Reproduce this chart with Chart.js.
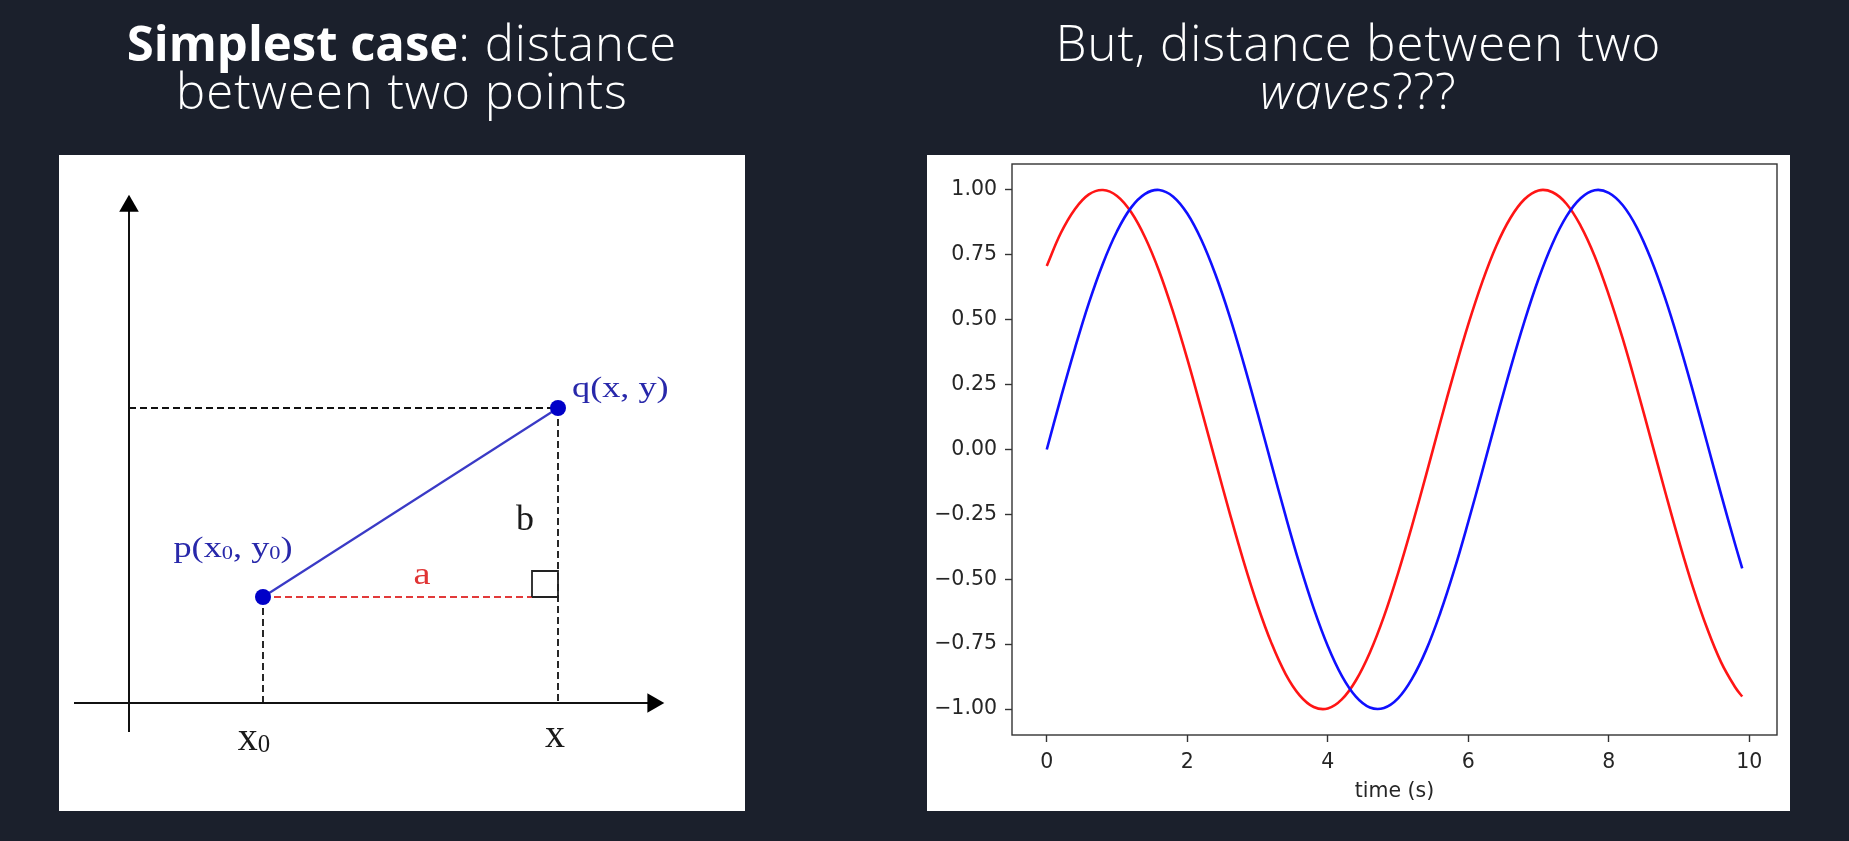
<!DOCTYPE html>
<html>
<head>
<meta charset="utf-8">
<script src="https://cdn.jsdelivr.net/npm/chart.js@4.4.1/dist/chart.umd.min.js"></script>
<style>
  html, body { margin: 0; padding: 0; background: #1b202c; width: 1849px; height: 841px; overflow: hidden; }
  .title { position: absolute; color: #fff; font-family: "Open Sans", "Lato", sans-serif; font-weight: 300;
           font-size: 49px; line-height: 48px; letter-spacing: 1px; text-align: center; white-space: nowrap; }
  .title b { font-weight: 700; letter-spacing: 0; }
  #leftTitle { left: 59px; width: 686px; top: 18px; }
  #rightTitle { left: 927px; width: 863px; top: 18px; }
  .panel { position: absolute; background: #fff; }
  #leftPanel { left: 59px; top: 155px; width: 686px; height: 656px; }
  #rightPanel { left: 927px; top: 155px; width: 863px; height: 656px; }
  canvas { display: block; }
</style>
</head>
<body>
<div class="title" id="leftTitle"><b>Simplest case</b>: distance<br>between two points</div>
<div class="title" id="rightTitle">But, distance between two<br><i>waves</i>???</div>
<div class="panel" id="leftPanel"><canvas id="pointsChart" width="686" height="656"></canvas></div>
<div class="panel" id="rightPanel"><canvas id="wavesChart" width="863" height="656"></canvas></div>
<script>
// ---- left diagram: two points (units of the sketch, origin where the axes cross)
var pointP = [1.34, 1.06];
var pointQ = [4.29, 2.95];
var xAxisEnds = [-0.55, 5.24];
var yAxisEnds = [-0.29, 4.97];
var squareSide = 0.26;

// ---- right chart: two waves
var times = [0, 0.2, 0.4, 0.6, 0.8, 1.0, 1.2, 1.4, 1.6, 1.8, 2.0, 2.2, 2.4, 2.6, 2.8, 3.0, 3.2, 3.4, 3.6, 3.8,
             4.0, 4.2, 4.4, 4.6, 4.8, 5.0, 5.2, 5.4, 5.6, 5.8, 6.0, 6.2, 6.4, 6.6, 6.8, 7.0, 7.2, 7.4, 7.6, 7.8,
             8.0, 8.2, 8.4, 8.6, 8.8, 9.0, 9.2, 9.4, 9.6, 9.8, 9.9];
var blueWave = [0.000, 0.199, 0.389, 0.565, 0.717, 0.841, 0.932, 0.985, 1.000, 0.974, 0.909, 0.808, 0.675, 0.516,
                0.335, 0.141, -0.058, -0.256, -0.443, -0.612, -0.757, -0.872, -0.952, -0.994, -0.996, -0.959,
                -0.883, -0.773, -0.631, -0.465, -0.279, -0.083, 0.117, 0.312, 0.494, 0.657, 0.794, 0.899, 0.968,
                0.999, 0.989, 0.941, 0.855, 0.734, 0.585, 0.412, 0.223, 0.025, -0.174, -0.366, -0.458];
var redWave = [0.707, 0.834, 0.926, 0.983, 1.000, 0.977, 0.915, 0.817, 0.687, 0.528, 0.349, 0.155, -0.044, -0.241,
               -0.429, -0.600, -0.747, -0.865, -0.947, -0.992, -0.998, -0.963, -0.890, -0.782, -0.643, -0.477,
               -0.293, -0.098, 0.103, 0.298, 0.482, 0.646, 0.785, 0.892, 0.964, 0.998, 0.991, 0.946, 0.862,
               0.745, 0.596, 0.426, 0.237, 0.039, -0.160, -0.353, -0.532, -0.689, -0.820, -0.916, -0.952];
var xTickValues = [0, 2, 4, 6, 8, 10];
var yTickValues = [-1, -0.75, -0.5, -0.25, 0, 0.25, 0.5, 0.75, 1];

var serif = '"Liberation Serif", "Times New Roman", serif';
var tickFont = { family: '"DejaVu Sans", sans-serif', size: 20.5 };

function pt(x, y) {
    return { x: x, y: y };
}

// labels of the sketch: text runs, [text, isSubscript]
var sketchLabels = [
    { runs: [['p(x'], ['0', 1], [', y'], ['0', 1], [')']], at: [1.04, 1.46], size: 29, stretch: 1.25, color: '#2828aa', align: 'center' },
    { runs: [['q(x, y)']], at: [4.43, 3.065], size: 29, stretch: 1.25, color: '#2828aa', align: 'left' },
    { runs: [['a']], at: [2.93, 1.19], size: 32, stretch: 1.2, color: '#e03434', align: 'center' },
    { runs: [['b']], at: [3.96, 1.73], size: 36, stretch: 1, color: '#1a1a1a', align: 'center' },
    { runs: [['x'], ['0', 1]], at: [1.25, -0.47], size: 40, stretch: 1, color: '#1a1a1a', align: 'center' },
    { runs: [['x']], at: [4.26, -0.44], size: 40, stretch: 1, color: '#1a1a1a', align: 'center' }
];

var sketchText = {
    id: 'sketchText',
    afterDatasetsDraw: function (chart) {
        var ctx = chart.ctx;
        var sx = chart.scales.x, sy = chart.scales.y;
        sketchLabels.forEach(function (lab) {
            var subSize = lab.size * 0.62;
            ctx.save();
            ctx.textBaseline = 'alphabetic';
            ctx.textAlign = 'left';
            var total = 0;
            lab.runs.forEach(function (r) {
                ctx.font = (r[1] ? subSize : lab.size) + 'px ' + serif;
                total += ctx.measureText(r[0]).width;
            });
            ctx.translate(sx.getPixelForValue(lab.at[0]), sy.getPixelForValue(lab.at[1]));
            ctx.scale(lab.stretch, 1);
            ctx.fillStyle = lab.color;
            var x = lab.align === 'center' ? -total / 2 : 0;
            lab.runs.forEach(function (r) {
                ctx.font = (r[1] ? subSize : lab.size) + 'px ' + serif;
                ctx.fillText(r[0], x, r[1] ? lab.size * 0.06 : 0);
                x += ctx.measureText(r[0]).width;
            });
            ctx.restore();
        });
    }
};

var dashed = [7, 4];
var sqLeft = pointQ[0] - squareSide, sqTop = pointP[1] + squareSide;
var sketchSets = [
    { // segment p - q with both points
        data: [pt(pointP[0], pointP[1]), pt(pointQ[0], pointQ[1])],
        borderColor: '#3a3ac6', borderWidth: 2.2,
        pointRadius: 8, pointBackgroundColor: '#0000c8', pointBorderWidth: 0
    },
    { // right angle mark
        data: [pt(sqLeft, pointP[1]), pt(sqLeft, sqTop), pt(pointQ[0], sqTop), pt(pointQ[0], pointP[1]),
               pt(sqLeft, pointP[1])],
        borderColor: '#222', borderWidth: 1.8, pointRadius: 0
    },
    { // a
        data: [pt(pointP[0], pointP[1]), pt(sqLeft, pointP[1])],
        borderColor: '#e23a3a', borderWidth: 2, borderDash: dashed, pointRadius: 0
    },
    { // b, down to x axis
        data: [pt(pointQ[0], pointQ[1]), pt(pointQ[0], 0)],
        borderColor: '#111', borderWidth: 1.8, borderDash: dashed, pointRadius: 0
    },
    { // q across to y axis
        data: [pt(0, pointQ[1]), pt(pointQ[0], pointQ[1])],
        borderColor: '#111', borderWidth: 1.8, borderDash: dashed, pointRadius: 0
    },
    { // p down to x axis
        data: [pt(pointP[0], pointP[1]), pt(pointP[0], 0)],
        borderColor: '#111', borderWidth: 1.8, borderDash: dashed, pointRadius: 0
    },
    { // x axis with arrow
        data: [pt(xAxisEnds[0], 0), pt(xAxisEnds[1], 0)],
        borderColor: '#111', borderWidth: 2,
        pointRadius: [0, 11.3], pointStyle: 'triangle', pointRotation: 90,
        pointBackgroundColor: '#000', pointBorderWidth: 0
    },
    { // y axis with arrow
        data: [pt(0, yAxisEnds[0]), pt(0, yAxisEnds[1])],
        borderColor: '#111', borderWidth: 2,
        pointRadius: [0, 11.3], pointStyle: 'triangle',
        pointBackgroundColor: '#000', pointBorderWidth: 0
    }
];
sketchSets.forEach(function (d) {
    d.showLine = true;
    d.fill = false;
});

new Chart(document.getElementById('pointsChart'), {
    type: 'scatter',
    data: { datasets: sketchSets },
    options: {
        responsive: false,
        animation: false,
        events: [],
        layout: { padding: 0, autoPadding: false },
        plugins: { legend: { display: false }, tooltip: { enabled: false } },
        scales: {
            x: { type: 'linear', display: false, min: -0.70, max: 6.16 },
            y: { type: 'linear', display: false, min: -1.08, max: 5.48 }
        }
    },
    plugins: [sketchText]
});

// box around the plot area, like matplotlib spines
var plotFrame = {
    id: 'plotFrame',
    afterDraw: function (chart) {
        var a = chart.chartArea, ctx = chart.ctx;
        ctx.save();
        ctx.strokeStyle = '#333';
        ctx.lineWidth = 1.4;
        ctx.strokeRect(a.left, a.top, a.right - a.left, a.bottom - a.top);
        ctx.restore();
    }
};

var tickGrid = { drawOnChartArea: false, drawTicks: true, tickLength: 7, tickColor: '#333', tickWidth: 1.4 };

new Chart(document.getElementById('wavesChart'), {
    type: 'line',
    data: {
        datasets: [
            {
                label: 'blue',
                data: times.map(function (t, i) { return pt(t, blueWave[i]); }),
                borderColor: '#1010ff', borderWidth: 2.6, pointRadius: 0, tension: 0.4
            },
            {
                label: 'red',
                data: times.map(function (t, i) { return pt(t, redWave[i]); }),
                borderColor: '#ff1515', borderWidth: 2.6, pointRadius: 0, tension: 0.4
            }
        ]
    },
    options: {
        responsive: false,
        animation: false,
        events: [],
        layout: { padding: { top: 9, right: 13, left: 0, bottom: 0 }, autoPadding: false },
        plugins: { legend: { display: false }, tooltip: { enabled: false } },
        scales: {
            x: {
                type: 'linear', min: -0.495, max: 10.395,
                afterBuildTicks: function (s) { s.ticks = xTickValues.map(function (v) { return { value: v }; }); },
                afterFit: function (s) { s.height = 76; s.paddingLeft = 0; s.paddingRight = 0; },
                grid: tickGrid,
                border: { display: false },
                ticks: { color: '#262626', font: tickFont, padding: 8, maxRotation: 0, autoSkip: false },
                title: { display: true, text: 'time (s)', color: '#262626', font: tickFont, padding: { top: 0, bottom: 7 } }
            },
            y: {
                type: 'linear', min: -1.1, max: 1.1,
                afterBuildTicks: function (s) { s.ticks = yTickValues.map(function (v) { return { value: v }; }); },
                afterFit: function (s) { s.width = 85; s.paddingTop = 0; s.paddingBottom = 0; },
                grid: tickGrid,
                border: { display: false },
                ticks: {
                    color: '#262626', font: tickFont, padding: 8, autoSkip: false,
                    callback: function (v) { return v.toFixed(2).replace('-', '\u2212'); }
                }
            }
        }
    },
    plugins: [plotFrame]
});
</script>
</body>
</html>
